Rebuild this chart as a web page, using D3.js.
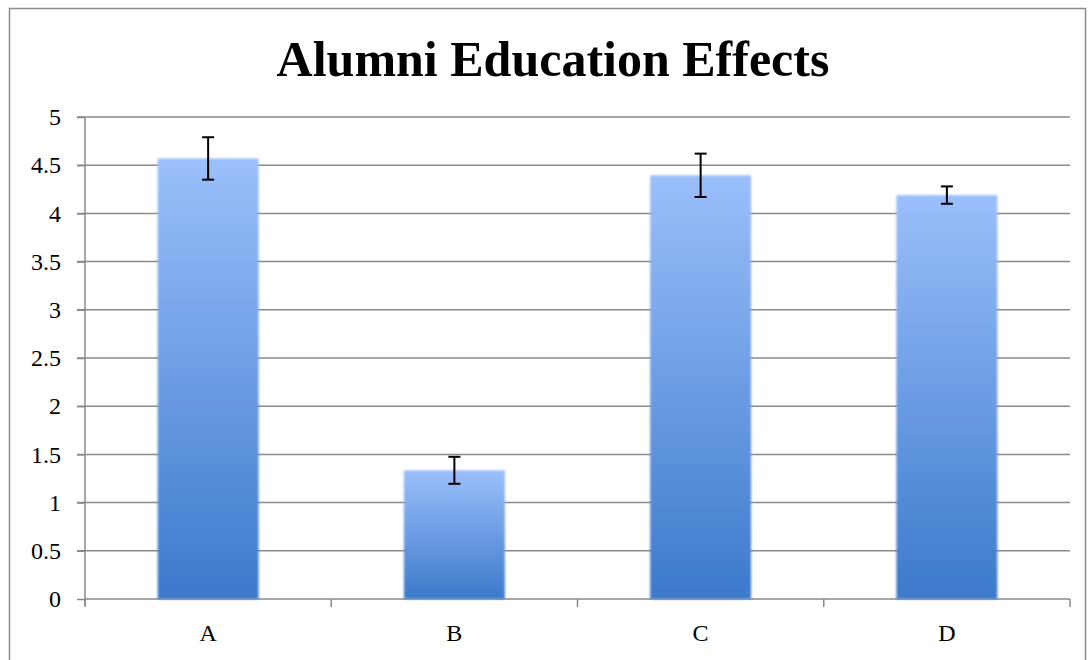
<!DOCTYPE html>
<html lang="en">
<head>
<meta charset="UTF-8">
<title>Alumni Education Effects</title>
<script src="https://cdn.jsdelivr.net/npm/d3@7"></script>
<style>
  body { margin: 0; background: #fff; }
  text { font-family: "Liberation Serif", "DejaVu Serif", serif; fill: #000; }
</style>
</head>
<body>
<div id="chart"></div>
<script>
  var categories = ['A', 'B', 'C', 'D'];
  var means = [4.57, 1.335, 4.395, 4.19];
  var errors = [0.22, 0.14, 0.225, 0.09];
  var yTicks = [0, 0.5, 1, 1.5, 2, 2.5, 3, 3.5, 4, 4.5, 5];

  var w = 1091, h = 660;
  var plotLeft = 85, plotRight = 1070, plotTop = 117, plotBottom = 599;

  var svg = d3.select('#chart').append('svg')
    .attr('width', w)
    .attr('height', h);

  var defs = svg.append('defs');
  var grad = defs.append('linearGradient')
    .attr('id', 'barGrad')
    .attr('x1', 0).attr('y1', 0).attr('x2', 0).attr('y2', 1);
  grad.append('stop').attr('offset', '0%').attr('stop-color', '#9bbffb');
  grad.append('stop').attr('offset', '100%').attr('stop-color', '#3c7acb');

  var blur = defs.append('filter').attr('id', 'soft')
    .attr('x', '-10%').attr('y', '-10%').attr('width', '120%').attr('height', '120%');
  blur.append('feGaussianBlur').attr('stdDeviation', 0.8);

  // outer frame
  svg.append('rect')
    .attr('x', 9.5).attr('y', 8.5)
    .attr('width', 1076).attr('height', 660)
    .attr('fill', 'none')
    .attr('stroke', '#8c8c8c')
    .attr('stroke-width', 1.5);

  svg.append('text')
    .attr('x', 553)
    .attr('y', 76)
    .attr('text-anchor', 'middle')
    .attr('font-size', '50px')
    .attr('font-weight', 'bold')
    .text('Alumni Education Effects');

  var xScale = d3.scaleBand()
    .domain(categories)
    .range([plotLeft, plotRight])
    .paddingInner(0.59)
    .paddingOuter(0.295);

  var yScale = d3.scaleLinear()
    .domain([0, 5])
    .range([plotBottom, plotTop]);

  // gridlines
  svg.append('g')
    .selectAll('line')
    .data(yTicks.filter(d => d > 0))
    .enter().append('line')
    .attr('x1', plotLeft - 8)
    .attr('x2', plotRight)
    .attr('y1', d => yScale(d))
    .attr('y2', d => yScale(d))
    .attr('stroke', '#8a8a8a')
    .attr('stroke-width', 1.5);

  // y axis
  var yAxis = d3.axisLeft(yScale)
    .tickValues(yTicks)
    .tickSize(8)
    .tickPadding(16)
    .tickFormat(d3.format('~g'));

  var yG = svg.append('g')
    .attr('transform', 'translate(' + plotLeft + ',0)')
    .call(yAxis);
  yG.selectAll('path, line').attr('stroke', '#8a8a8a').attr('stroke-width', 1.5);
  yG.attr('font-family', null);
  yG.selectAll('text').attr('font-size', '24px').attr('fill', '#000');
  yG.select('.domain').attr('d', 'M0,' + plotTop + 'V' + (plotBottom + 6));

  // x axis
  var boundaries = d3.range(categories.length + 1).map(i => plotLeft + i * (plotRight - plotLeft) / categories.length);
  var xG = svg.append('g');
  xG.append('line')
    .attr('x1', plotLeft).attr('x2', plotRight)
    .attr('y1', plotBottom).attr('y2', plotBottom)
    .attr('stroke', '#8a8a8a').attr('stroke-width', 1.5);
  xG.selectAll('.tk')
    .data(boundaries)
    .enter().append('line')
    .attr('class', 'tk')
    .attr('x1', d => d).attr('x2', d => d)
    .attr('y1', plotBottom).attr('y2', plotBottom + 8)
    .attr('stroke', '#8a8a8a').attr('stroke-width', 1.5);
  xG.selectAll('text')
    .data(categories)
    .enter().append('text')
    .attr('x', d => xScale(d) + xScale.bandwidth() / 2)
    .attr('y', 641)
    .attr('text-anchor', 'middle')
    .attr('font-size', '24px')
    .text(d => d);

  // bars
  svg.append('g')
    .selectAll('rect')
    .data(means)
    .enter().append('rect')
    .attr('x', (d, i) => xScale(categories[i]))
    .attr('y', d => yScale(d))
    .attr('width', xScale.bandwidth())
    .attr('height', d => yScale(0) - yScale(d))
    .attr('fill', 'url(#barGrad)')
    .attr('filter', 'url(#soft)');

  // error bars
  var eb = svg.append('g')
    .selectAll('g')
    .data(means)
    .enter().append('g');
  var cx = (d, i) => xScale(categories[i]) + xScale.bandwidth() / 2;
  eb.append('line')
    .attr('x1', cx).attr('x2', cx)
    .attr('y1', (d, i) => yScale(d + errors[i]))
    .attr('y2', (d, i) => yScale(d - errors[i]))
    .attr('stroke', '#000').attr('stroke-width', 2);
  eb.append('line')
    .attr('x1', (d, i) => cx(d, i) - 6).attr('x2', (d, i) => cx(d, i) + 6)
    .attr('y1', (d, i) => yScale(d + errors[i]))
    .attr('y2', (d, i) => yScale(d + errors[i]))
    .attr('stroke', '#000').attr('stroke-width', 2);
  eb.append('line')
    .attr('x1', (d, i) => cx(d, i) - 6).attr('x2', (d, i) => cx(d, i) + 6)
    .attr('y1', (d, i) => yScale(d - errors[i]))
    .attr('y2', (d, i) => yScale(d - errors[i]))
    .attr('stroke', '#000').attr('stroke-width', 2);
</script>
</body>
</html>
